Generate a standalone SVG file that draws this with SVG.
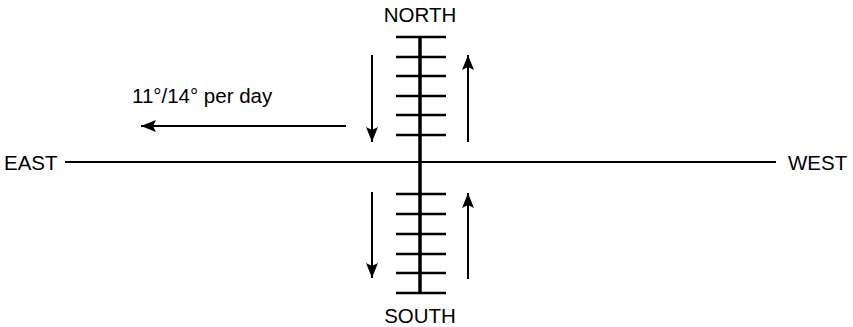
<svg xmlns="http://www.w3.org/2000/svg" width="853" height="327" viewBox="0 0 853 327">
<style>
text{font-family:"Liberation Sans",Arial,sans-serif;font-size:20.5px;fill:#000}
.ax{stroke:#000;stroke-width:2;fill:none}
.thick{stroke:#000;stroke-width:3.5;fill:none}
.tick{stroke:#000;stroke-width:2.5;fill:none}
.arr{stroke:#000;stroke-width:2;fill:none;marker-end:url(#ah)}
</style>
<defs>
<marker id="ah" viewBox="0 0 15 12" refX="15" refY="6" markerWidth="15" markerHeight="12" markerUnits="userSpaceOnUse" orient="auto">
<path d="M0,0 L15,6 L0,12 L3,6 Z" fill="#000"/>
</marker>
</defs>
<g id="labels">
<text x="420" y="22" text-anchor="middle">NORTH</text>
<text x="420" y="323" text-anchor="middle">SOUTH</text>
<text x="4" y="170">EAST</text>
<text x="788" y="170">WEST</text>
<text x="132" y="103">11°/14° per day</text>
</g>
<g id="connectors">
<line class="ax" x1="65" y1="162" x2="776" y2="162"/>
<line class="thick" x1="420" y1="36" x2="420" y2="294"/>
<path class="tick" d="M396,37H446M396,57H446M396,76H446M396,96H446M396,115H446M396,135H446M396,194H446M396,214H446M396,234H446M396,254H446M396,273H446M396,293H446"/>
<line class="arr" x1="372" y1="55" x2="372" y2="142"/>
<line class="arr" x1="468" y1="142" x2="468" y2="55"/>
<line class="arr" x1="372" y1="192" x2="372" y2="278"/>
<line class="arr" x1="468" y1="279" x2="468" y2="193"/>
<line class="arr" x1="346" y1="126" x2="141" y2="126"/>
</g>
</svg>
